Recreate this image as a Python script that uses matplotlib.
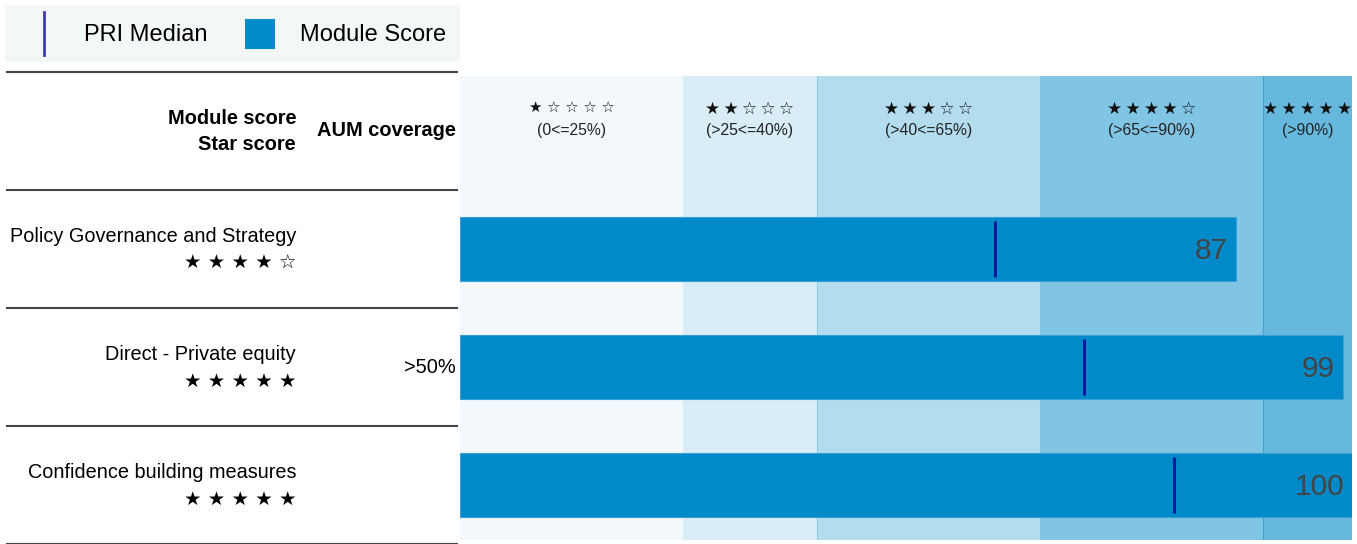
import matplotlib.pyplot as plt
from matplotlib.patches import Rectangle
from matplotlib.transforms import blended_transform_factory

plt.rcParams['font.family'] = ['Liberation Sans', 'DejaVu Sans']

# data
modules = ['Policy Governance and Strategy', 'Direct - Private equity', 'Confidence building measures']
scores = [87, 99, 100]
medians = [60, 70, 80]
star_rows = ['★ ★ ★ ★ ☆', '★ ★ ★ ★ ★', '★ ★ ★ ★ ★']
aum = ['', '>50%', '']

band_edges = [0, 25, 40, 65, 90, 100]
band_stars = ['★ ☆ ☆ ☆ ☆', '★★☆☆☆', '★★★☆☆', '★★★★☆', '★★★★★']
band_labels = ['(0<=25%)', '(>25<=40%)', '(>40<=65%)', '(>65<=90%)', '(>90%)']
band_colors = ['#f2f8fc', '#d9edf6', '#b3ddee', '#80c5e3', '#66b9dd']

bar_color = '#008ac9'
median_color = '#0a1a9c'
W, H = 1357, 544

fig = plt.figure(figsize=(W / 100, H / 100), dpi=100)

# overlay axes in pixel units for the table part on the left
lax = fig.add_axes([0, 0, 1, 1])
lax.set_xlim(0, W)
lax.set_ylim(H, 0)
lax.axis('off')

ax = fig.add_axes([460 / W, 4 / H, 892 / W, 464 / H])
ax.set_xlim(0, 100)
ax.set_ylim(2.466, -1.466)
ax.axis('off')

# star bands
for lo, hi, c in zip(band_edges[:-1], band_edges[1:], band_colors):
    ax.axvspan(lo, hi, color=c, lw=0, zorder=0)
ax.axvline(40, color='#8ccbe6', lw=0.8, zorder=1)
ax.axvline(90, color='#3fa3d2', lw=0.8, zorder=1)

for k in range(len(band_labels)):
    mid = (band_edges[k] + band_edges[k + 1]) / 2
    if k == 0:
        txt, fs = band_stars[k], 10.7
    else:
        txt, fs = '\u2009'.join(band_stars[k]), 12.2
    ax.text(mid, -1.19, txt, ha='center', va='center', fontsize=fs,
            family=['DejaVu Sans'], color='#111111')
    ax.text(mid, -1.003, band_labels[k], ha='center', va='center', fontsize=11.3, color='#222222')

rows = range(len(modules))
ax.barh(rows, scores, height=0.55, color=bar_color, edgecolor='#3a9fd4', lw=0.8, zorder=2)
ax.vlines(medians, [r - 0.237 for r in rows], [r + 0.237 for r in rows],
          color=median_color, lw=2.2, zorder=3)
for r, s in zip(rows, scores):
    ax.text(s - 0.9, r + 0.015, str(s), ha='right', va='center', fontsize=21.5,
            color='#444444', zorder=4)

# left table
trans = blended_transform_factory(lax.transData, ax.transData)
for r in rows:
    lax.text(296, r - 0.105, modules[r], transform=trans, ha='right', va='center', fontsize=14.35)
    lax.text(296, r + 0.12, star_rows[r], transform=trans, ha='right', va='center',
             fontsize=14, family=['DejaVu Sans'])
    if aum[r]:
        lax.text(456, r, aum[r], transform=trans, ha='right', va='center', fontsize=14.4)
for y in [-1.5, -0.5, 0.5, 1.5, 2.5]:
    lax.plot([7, 457], [y, y], transform=trans, color='#444444', lw=1.5, clip_on=False)

lax.text(296, 118, 'Module score', ha='right', va='center', fontsize=14.4, fontweight='bold')
lax.text(296, 144, 'Star score', ha='right', va='center', fontsize=14.4, fontweight='bold')
lax.text(456, 131, 'AUM coverage', ha='right', va='center', fontsize=14.4, fontweight='bold')

# legend
lax.add_patch(Rectangle((5, 5), 455, 57, color='#f3f7f8', lw=0))
lax.plot([44, 44], [12, 55], color='#3b3bb5', lw=2)
lax.text(84, 35, 'PRI Median', va='center', fontsize=17)
lax.add_patch(Rectangle((245, 19), 30, 30, color=bar_color, lw=0))
lax.text(300, 35, 'Module Score', va='center', fontsize=17)

fig.savefig('out.png', dpi=100)
